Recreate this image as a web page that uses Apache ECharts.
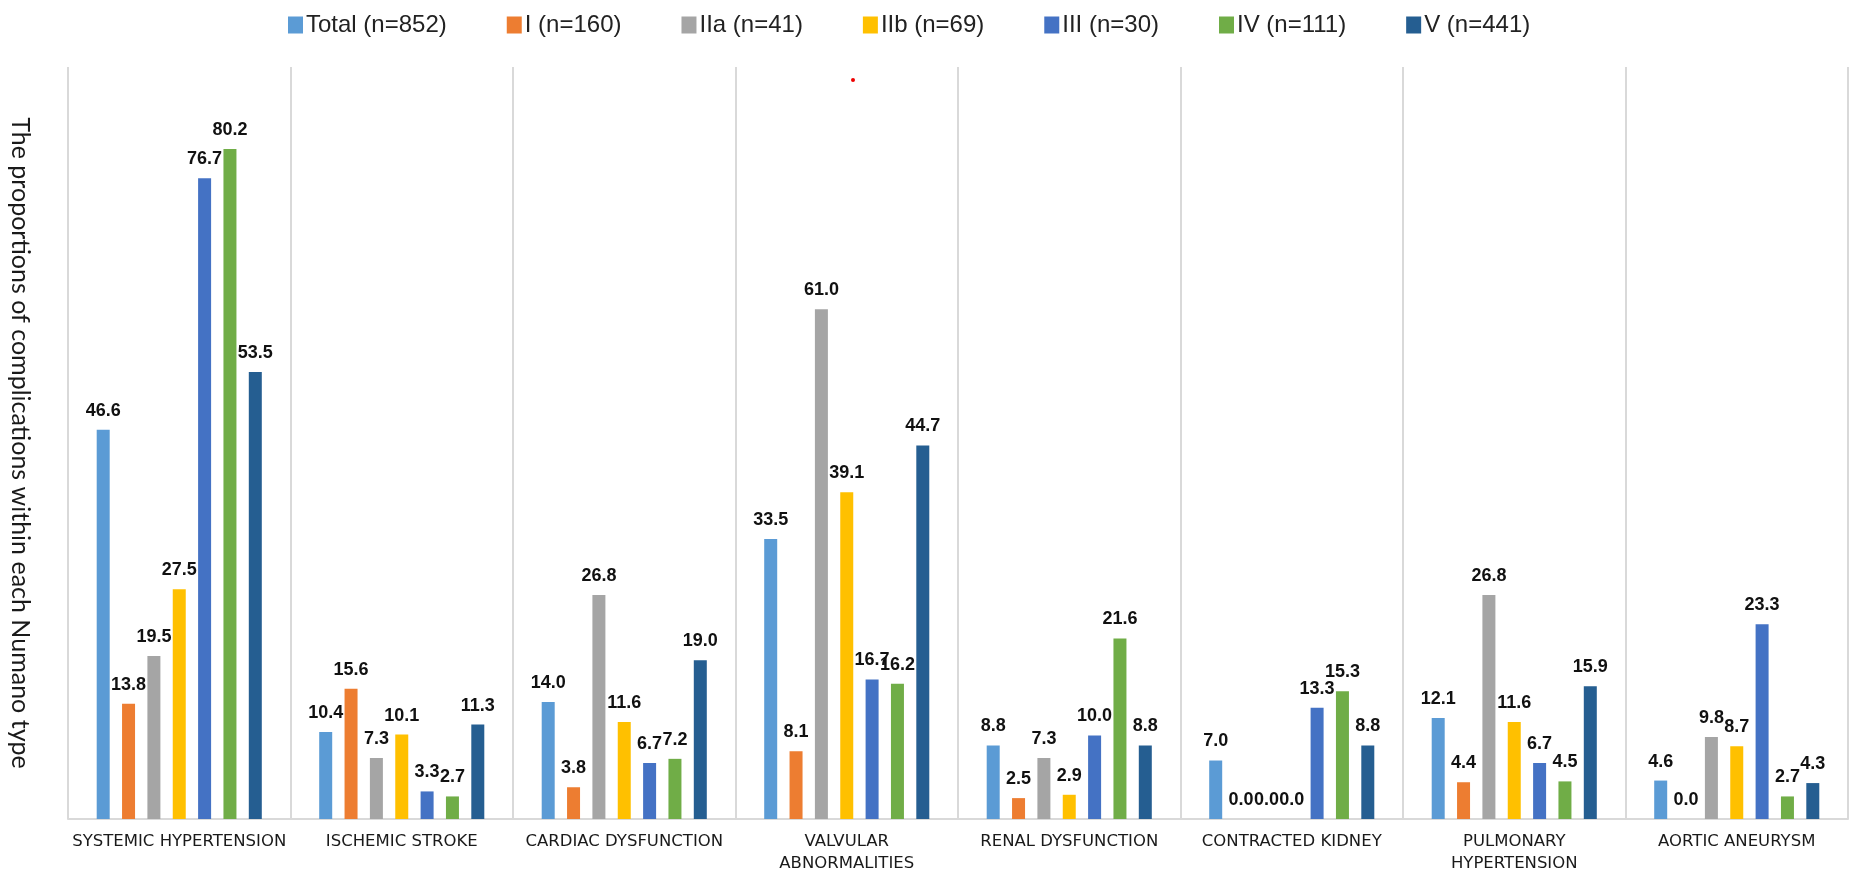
<!DOCTYPE html>
<html>
<head>
<meta charset="utf-8">
<script src="https://cdn.jsdelivr.net/npm/echarts@6/dist/echarts.min.js"></script>
<style>html,body{margin:0;padding:0;background:#fff;}#c{width:1852px;height:877px;}</style>
</head>
<body>
<div id="c"></div>
<script>
const categories = ['SYSTEMIC HYPERTENSION','ISCHEMIC STROKE','CARDIAC DYSFUNCTION','VALVULAR\nABNORMALITIES','RENAL DYSFUNCTION','CONTRACTED KIDNEY','PULMONARY\nHYPERTENSION','AORTIC ANEURYSM'];
const seriesNames = ['Total (n=852)','I (n=160)','IIa (n=41)','IIb (n=69)','III (n=30)','IV (n=111)','V (n=441)'];
const colors = ['#5B9BD5','#ED7D31','#A5A5A5','#FFC000','#4472C4','#70AD47','#255E91'];
const totalVals = [46.6, 10.4, 14.0, 33.5, 8.8, 7.0, 12.1, 4.6];
const iVals     = [13.8, 15.6, 3.8, 8.1, 2.5, 0.0, 4.4, 0.0];
const iiaVals   = [19.5, 7.3, 26.8, 61.0, 7.3, 0.0, 26.8, 9.8];
const iibVals   = [27.5, 10.1, 11.6, 39.1, 2.9, 0.0, 11.6, 8.7];
const iiiVals   = [76.7, 3.3, 6.7, 16.7, 10.0, 13.3, 6.7, 23.3];
const ivVals    = [80.2, 2.7, 7.2, 16.2, 21.6, 15.3, 4.5, 2.7];
const vVals     = [53.5, 11.3, 19.0, 44.7, 8.8, 8.8, 15.9, 4.3];
const allVals = [totalVals, iVals, iiaVals, iibVals, iiiVals, ivVals, vVals];

const chart = echarts.init(document.getElementById('c'));
chart.setOption({
  animation: false,
  color: colors,
  legend: {
    left: 283, top: 8,
    itemWidth: 15, itemHeight: 17, itemGap: 60,
    icon: 'rect',
    textStyle: { fontFamily: 'Liberation Sans, sans-serif', fontSize: 24, color: '#222', padding: [0,0,0,-2] },
    data: seriesNames
  },
  grid: { left: 58, right: 4, top: 67, bottom: 58 },
  xAxis: {
    type: 'category',
    data: categories,
    axisLine: { lineStyle: { color: '#d9d9d9', width: 2 } },
    axisTick: { show: false },
    splitLine: { show: true, lineStyle: { color: '#d9d9d9', width: 2 } },
    axisLabel: { interval: 0, margin: 12, fontFamily: 'DejaVu Sans, sans-serif', fontSize: 16.5, color: '#1a1a1a', lineHeight: 22 }
  },
  yAxis: {
    type: 'value', min: 0, max: 90,
    axisLine: { show: false }, axisTick: { show: false }, axisLabel: { show: false },
    splitLine: { show: false },
    name: 'The proportions of complications within each Numano type',
    nameLocation: 'middle', nameRotate: -90, nameGap: 35,
    nameTextStyle: { fontFamily: 'Lato, sans-serif', fontSize: 25, color: '#1a1a1a' }
  },
  series: seriesNames.map((n, i) => ({
    name: n, type: 'bar', data: allVals[i],
    barWidth: 13, barGap: '95%',
    label: { show: true, position: 'top', distance: 10, formatter: p => p.value.toFixed(1),
      fontFamily: 'Liberation Sans, sans-serif', fontWeight: 'bold', fontSize: 18, color: '#111' }
  })),
  graphic: [{ type: 'circle', left: 851, top: 78, shape: { r: 2 }, style: { fill: '#e00' } }]
});
</script>
</body>
</html>
